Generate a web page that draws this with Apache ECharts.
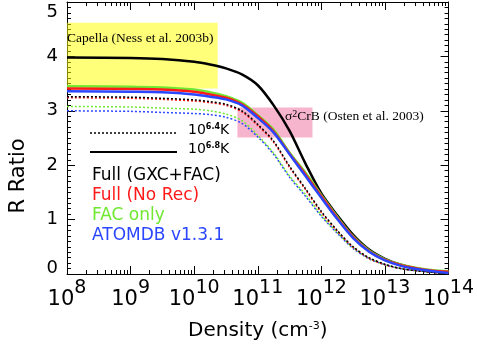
<!DOCTYPE html>
<html>
<head>
<meta charset="utf-8">
<script src="https://cdn.jsdelivr.net/npm/echarts@6/dist/echarts.min.js"></script>
<style>
  html, body { margin: 0; padding: 0; background: #fff; }
  #chart { width: 477px; height: 346px; }
</style>
</head>
<body>
<div id="chart"></div>
<script>
// log10 of density (cm^-3)
var logDensity = [8, 9, 9.5, 10, 10.25, 10.5, 10.75, 11, 11.25, 11.5, 11.75, 12, 12.25, 12.5, 12.75, 13, 13.25, 13.5, 13.75, 14];

// 10^6.8 K (solid)
var fullHot   = [3.98, 3.97, 3.95, 3.90, 3.85, 3.78, 3.67, 3.47, 3.10, 2.63, 2.03, 1.48, 1.08, 0.72, 0.45, 0.28, 0.17, 0.10, 0.05, 0.02];
var noRecHot  = [3.41, 3.40, 3.39, 3.35, 3.30, 3.24, 3.12, 2.90, 2.62, 2.21, 1.83, 1.43, 1.03, 0.68, 0.42, 0.26, 0.16, 0.10, 0.06, 0.04];
var facHot    = [3.45, 3.44, 3.43, 3.39, 3.34, 3.27, 3.15, 2.92, 2.65, 2.23, 1.86, 1.45, 1.05, 0.69, 0.43, 0.27, 0.17, 0.11, 0.07, 0.05];
var atomdbHot = [3.36, 3.35, 3.34, 3.30, 3.26, 3.21, 3.10, 2.87, 2.60, 2.20, 1.80, 1.40, 1.01, 0.66, 0.41, 0.25, 0.15, 0.09, 0.05, 0.02];

// 10^6.4 K (dotted)
var fullCool   = [3.26, 3.25, 3.23, 3.20, 3.17, 3.12, 3.00, 2.75, 2.44, 1.98, 1.57, 1.15, 0.80, 0.50, 0.30, 0.18, 0.10, 0.06, 0.03, 0.01];
var noRecCool  = [3.24, 3.23, 3.21, 3.18, 3.15, 3.10, 2.98, 2.73, 2.42, 1.96, 1.55, 1.13, 0.79, 0.49, 0.29, 0.17, 0.10, 0.06, 0.03, 0.01];
var facCool    = [3.08, 3.07, 3.05, 3.03, 3.00, 2.94, 2.82, 2.55, 2.22, 1.80, 1.46, 1.08, 0.76, 0.48, 0.29, 0.17, 0.10, 0.06, 0.03, 0.01];
var atomdbCool = [3.00, 2.99, 2.97, 2.95, 2.93, 2.88, 2.77, 2.52, 2.20, 1.78, 1.43, 1.06, 0.75, 0.47, 0.28, 0.17, 0.10, 0.06, 0.03, 0.01];

var decades = [8, 9, 10, 11, 12, 13, 14];

// observed boxes: [log x from, log x to, y from, y to]
var capellaBox = [8, 10.37, 3.41, 4.62];
var crbBox = [10.68, 11.86, 2.51, 3.06];

var legendNames = ['Full (GXC+FAC)', 'Full (No Rec)', 'FAC only', 'ATOMDB v1.3.1'];
var colors = ['#000000', '#ff1a1a', '#6ee830', '#2a46ff'];

function pairs(vals) {
  return vals.map(function (v, i) { return [Math.pow(10, logDensity[i]), v]; });
}

var majorX = decades.map(function (d) { return Math.pow(10, d); });
var minorX = [];
decades.slice(0, -1).forEach(function (d) {
  for (var m = 2; m <= 9; m++) minorX.push(m * Math.pow(10, d));
});

var chart = echarts.init(document.getElementById('chart'));

function xAxisDef(pos, major) {
  return {
    type: 'log',
    min: 1e8,
    max: 1e14,
    position: pos,
    axisLine: { show: major, onZero: false, lineStyle: { color: '#000', width: 1 } },
    axisTick: { show: true, inside: true, length: major ? 8 : 4, customValues: major ? majorX : minorX, lineStyle: { color: '#000' } },
    axisLabel: {
      show: major && pos === 'bottom',
      customValues: majorX,
      margin: 5,
      formatter: function (v) {
        return '{b|10}{s|' + Math.round(Math.log10(v)) + '}';
      },
      rich: {
        b: { fontSize: 21, fontFamily: 'DejaVu Sans', color: '#000', padding: [10, 0, 0, 0], verticalAlign: 'bottom' },
        s: { fontSize: 19, fontFamily: 'DejaVu Sans', color: '#000', verticalAlign: 'top' }
      }
    },
    splitLine: { show: false },
    name: major && pos === 'bottom' ? 'Density (cm{s|-3})' : '',
    nameLocation: 'middle',
    nameGap: 47,
    nameTextStyle: {
      fontSize: 20, fontFamily: 'DejaVu Sans', color: '#000',
      rich: { s: { fontSize: 11, fontFamily: 'DejaVu Sans', color: '#000', verticalAlign: 'top', padding: [0, 0, 8, 0] } }
    }
  };
}

function yAxisDef(pos) {
  return {
    type: 'value',
    min: 0,
    max: 5,
    interval: 1,
    position: pos,
    axisLine: { show: true, onZero: false, lineStyle: { color: '#000', width: 1 } },
    axisTick: { show: true, inside: true, length: 8, lineStyle: { color: '#000' } },
    minorTick: { show: true, splitNumber: 10, length: 4, lineStyle: { color: '#000' } },
    splitLine: { show: false },
    minorSplitLine: { show: false },
    axisLabel: {
      show: pos === 'left',
      margin: 9,
      fontSize: 18,
      fontFamily: 'DejaVu Sans',
      color: '#000',
      formatter: function (v) {
        if (v === 5) return '{t|5}';
        if (v === 0) return '{d|0}';
        return String(v);
      },
      rich: {
        t: { fontSize: 18, fontFamily: 'DejaVu Sans', color: '#000', padding: [20, 0, 0, 0] },
        d: { fontSize: 18, fontFamily: 'DejaVu Sans', color: '#000', padding: [0, 0, 11, 0] }
      }
    },
    name: pos === 'left' ? 'R Ratio' : '',
    nameLocation: 'middle',
    nameGap: 38,
    nameTextStyle: { fontSize: 21, fontFamily: 'DejaVu Sans', color: '#000', padding: [0, 76, 0, 0] }
  };
}

function lineSeries(vals, color, dotted, z) {
  return {
    type: 'line',
    data: pairs(vals),
    smooth: 0.3,
    symbol: 'none',
    z: z,
    lineStyle: dotted
      ? { color: color, width: 1.5, type: [2, 2] }
      : { color: color, width: 2.5 },
    silent: true,
    animation: false
  };
}

var series = [
  lineSeries(atomdbCool, colors[3], true, 2),
  lineSeries(facCool, colors[2], true, 2),
  lineSeries(noRecCool, colors[1], true, 2),
  lineSeries(fullCool, colors[0], true, 2),
  lineSeries(fullHot, colors[0], false, 3),
  lineSeries(facHot, colors[2], false, 3),
  lineSeries(noRecHot, colors[1], false, 3),
  lineSeries(atomdbHot, colors[3], false, 3),
  {
    type: 'line',
    data: [],
    z: 5,
    silent: true,
    markArea: {
      silent: true,
      data: [
        [{ coord: [Math.pow(10, capellaBox[0]), capellaBox[3]], itemStyle: { color: 'rgba(255,255,0,0.52)' } },
         { coord: [Math.pow(10, capellaBox[1]), capellaBox[2]] }],
        [{ coord: [Math.pow(10, crbBox[0]), crbBox[3]], itemStyle: { color: 'rgba(237,89,144,0.45)' } },
         { coord: [Math.pow(10, crbBox[1]), crbBox[2]] }]
      ]
    }
  }
];

var graphics = [
  { type: 'text', left: 67, top: 31, z: 100, style: { text: 'Capella (Ness et al. 2003b)', font: '13.5px "Liberation Serif"', fill: '#000' } },
  { type: 'text', left: 285, top: 109, z: 100, style: { text: 'σ{s|2}CrB (Osten et al. 2003)', font: '13.5px "Liberation Serif"', fill: '#000',
      rich: { s: { font: '10px "Liberation Serif"', fill: '#000', verticalAlign: 'top' } } } },
  { type: 'line', z: 100, shape: { x1: 90, y1: 133, x2: 177, y2: 133 }, style: { stroke: '#000', lineWidth: 1.3, lineDash: [2, 2] } },
  { type: 'line', z: 100, shape: { x1: 90, y1: 152, x2: 177, y2: 152 }, style: { stroke: '#000', lineWidth: 2 } },
  { type: 'text', left: 188, top: 123, z: 100, style: { text: '10{s|6.4}K', font: '14px "DejaVu Sans"', fill: '#000',
      rich: { s: { font: 'bold 8px "DejaVu Sans"', fill: '#000', verticalAlign: 'top' } } } },
  { type: 'text', left: 188, top: 142, z: 100, style: { text: '10{s|6.8}K', font: '14px "DejaVu Sans"', fill: '#000',
      rich: { s: { font: 'bold 8px "DejaVu Sans"', fill: '#000', verticalAlign: 'top' } } } }
];
legendNames.forEach(function (n, i) {
  graphics.push({ type: 'text', left: 92, top: 167 + i * 20, z: 100,
    style: { text: n, font: '17px "DejaVu Sans"', fill: colors[i] } });
});

chart.setOption({
  animation: false,
  backgroundColor: '#fff',
  grid: { left: 62, right: 28, top: 2, bottom: 72, containLabel: false },
  xAxis: [xAxisDef('bottom', true), xAxisDef('bottom', false), xAxisDef('top', true), xAxisDef('top', false)],
  yAxis: [yAxisDef('left'), yAxisDef('right')],
  series: series,
  graphic: graphics
});
</script>
</body>
</html>
